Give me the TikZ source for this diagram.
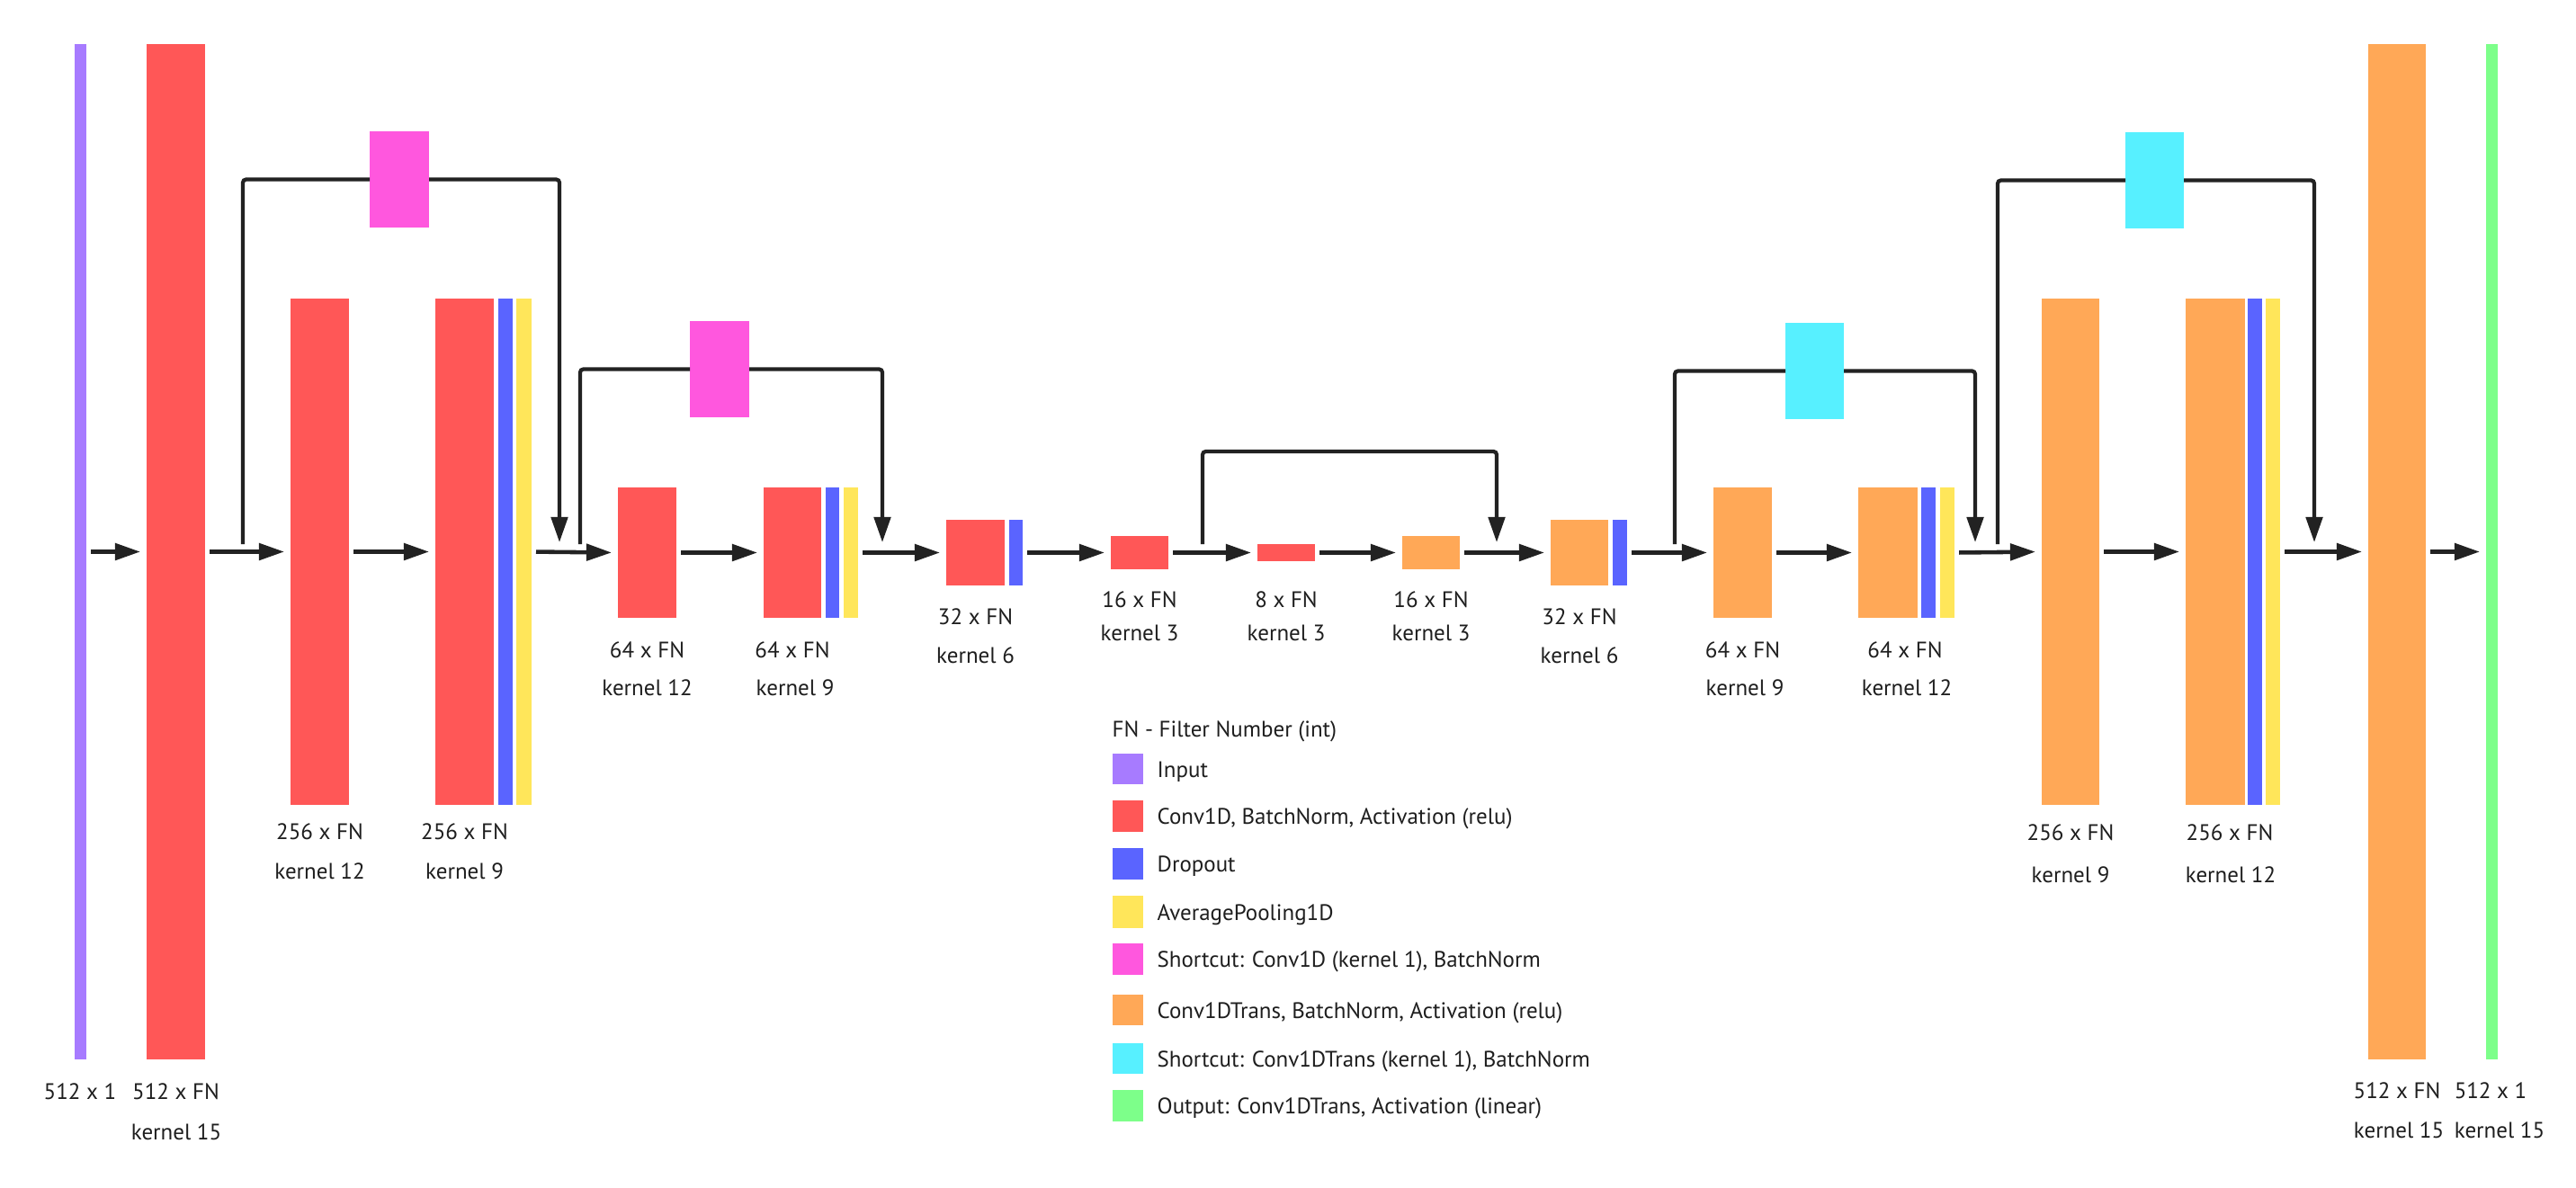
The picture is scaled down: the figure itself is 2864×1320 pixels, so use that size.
\documentclass[tikz,border=0pt]{standalone}
\usepackage{fontspec}
\setmainfont{PT Sans}
\usetikzlibrary{arrows.meta,calc}
\definecolor{cin}{HTML}{A77BFF}
\definecolor{cconv}{HTML}{FF5757}
\definecolor{cdrop}{HTML}{5A64FF}
\definecolor{cpool}{HTML}{FFE65A}
\definecolor{cshort}{HTML}{FF57DE}
\definecolor{ctrans}{HTML}{FFA857}
\definecolor{cshortt}{HTML}{57F0FF}
\definecolor{cout}{HTML}{7DFF8A}
\definecolor{cline}{HTML}{222222}
\definecolor{ctext}{HTML}{1E1E1E}
\newcommand\blk[6]{\node[blockbox,fill=#2,minimum width={(#4-#3)*0.1mm},minimum height={(#6-#5)*0.1mm}] (#1) at ({(#3+#4)/2},{(#5+#6)/2}) {};}
\newcommand\lbl[4]{\node[lbltext] (#1) at (#2,{#3+9}) {#4};}
\tikzset{
  blockbox/.style={rectangle,draw=none,inner sep=0pt,outer sep=0pt},
  lbltext/.style={anchor=base,inner sep=0pt,text=ctext,font=\fontsize{7.1pt}{9pt}\selectfont},
  legtext/.style={anchor=base west,inner sep=0pt,text=ctext,font=\fontsize{7.1pt}{9pt}\selectfont},
  flowarrow/.style={draw=cline,line width=1.3pt,-{Triangle[length=8pt,width=5.2pt]},shorten <=0.5mm,shorten >=0.7mm},
  skipline/.style={draw=cline,line width=1.2pt,rounded corners=1pt},
  skiparrow/.style={skipline,-{Triangle[length=8pt,width=5.2pt]}},
}
\begin{document}
\begin{tikzpicture}[x=0.1mm,y=-0.1mm]
\fill[white] (0,0) rectangle (2864,1320);
\useasboundingbox (0,0) rectangle (2864,1320);
% encoder
\blk{in1}{cin}{83}{96}{49}{1178}
\blk{e1}{cconv}{163}{228}{49}{1178}
\blk{e2}{cconv}{323}{388}{332}{895}
\blk{e3}{cconv}{484}{549}{332}{895}
\blk{e3d}{cdrop}{554}{570}{332}{895}
\blk{e3p}{cpool}{574}{591}{332}{895}
\blk{e4}{cconv}{687}{752}{542}{687}
\blk{e5}{cconv}{849}{913}{542}{687}
\blk{e5d}{cdrop}{918}{933}{542}{687}
\blk{e5p}{cpool}{938}{954}{542}{687}
\blk{e6}{cconv}{1052}{1117}{578}{651}
\blk{e6d}{cdrop}{1122}{1137}{578}{651}
\blk{e7}{cconv}{1235}{1299}{596}{633}
\blk{e8}{cconv}{1398}{1462}{605}{624}
% decoder
\blk{d1}{ctrans}{1559}{1623}{596}{633}
\blk{d2}{ctrans}{1724}{1788}{578}{651}
\blk{d2d}{cdrop}{1793}{1809}{578}{651}
\blk{d3}{ctrans}{1905}{1970}{542}{687}
\blk{d4}{ctrans}{2066}{2132}{542}{687}
\blk{d4d}{cdrop}{2136}{2152}{542}{687}
\blk{d4p}{cpool}{2157}{2173}{542}{687}
\blk{d5}{ctrans}{2270}{2334}{332}{895}
\blk{d6}{ctrans}{2430}{2496}{332}{895}
\blk{d6d}{cdrop}{2499}{2515}{332}{895}
\blk{d6p}{cpool}{2519}{2535}{332}{895}
\blk{d7}{ctrans}{2633}{2697}{49}{1178}
\blk{out}{cout}{2764}{2777}{49}{1178}
% shortcut boxes
\blk{sc1}{cshort}{411}{477}{146}{253}
\blk{sc2}{cshort}{767}{833}{357}{464}
\blk{sc4}{cshortt}{1985}{2050}{359}{466}
\blk{sc5}{cshortt}{2363}{2428}{147}{254}
% main flow
\draw[flowarrow] (in1.east) -- (e1.west);
\draw[flowarrow] (e1.east) -- (e2.west);
\draw[flowarrow] (e2.east) -- (e3.west);
\draw[flowarrow] (e3p.east) -- (e4.west);
\draw[flowarrow] (e4.east) -- (e5.west);
\draw[flowarrow] (e5p.east) -- (e6.west);
\draw[flowarrow] (e6d.east) -- (e7.west);
\draw[flowarrow] (e7.east) -- (e8.west);
\draw[flowarrow] (e8.east) -- (d1.west);
\draw[flowarrow] (d1.east) -- (d2.west);
\draw[flowarrow] (d2d.east) -- (d3.west);
\draw[flowarrow] (d3.east) -- (d4.west);
\draw[flowarrow] (d4p.east) -- (d5.west);
\draw[flowarrow] (d5.east) -- (d6.west);
\draw[flowarrow] (d6p.east) -- (d7.west);
\draw[flowarrow] (d7.east) -- (out.west);
% shortcut connectors
\coordinate (s1a) at (270,605); \coordinate (s1b) at (622,603);
\coordinate (s2a) at (645,605); \coordinate (s2b) at (981,603);
\coordinate (s3a) at (1337,605); \coordinate (s3b) at (1664,603);
\coordinate (s4a) at (1862,605); \coordinate (s4b) at (2196,603);
\coordinate (s5a) at (2221,605); \coordinate (s5b) at (2573,603);
\draw[skipline] (s1a) |- (sc1.west);
\draw[skiparrow] (sc1.east) -| (s1b);
\draw[skipline] (s2a) |- (sc2.west);
\draw[skiparrow] (sc2.east) -| (s2b);
\draw[skiparrow] (s3a) -- ++(0,-103) -| (s3b);
\draw[skipline] (s4a) |- (sc4.west);
\draw[skiparrow] (sc4.east) -| (s4b);
\draw[skipline] (s5a) |- (sc5.west);
\draw[skiparrow] (sc5.east) -| (s5b);
% labels
\lbl{l1}{89}{1213}{512 x 1}
\lbl{l2}{195.5}{1213}{512 x FN}
\lbl{l2k}{196}{1258}{kernel 15}
\lbl{l3}{355.5}{924}{256 x FN}
\lbl{l3k}{355.5}{968}{kernel 12}
\lbl{l4}{516.5}{924}{256 x FN}
\lbl{l4k}{516.5}{968}{kernel 9}
\lbl{l5}{719.5}{722}{64 x FN}
\lbl{l5k}{719.5}{764}{kernel 12}
\lbl{l6}{881}{722}{64 x FN}
\lbl{l6k}{884}{764}{kernel 9}
\lbl{l7}{1084.5}{685}{32 x FN}
\lbl{l7k}{1084.5}{728}{kernel 6}
\lbl{l8}{1267}{666}{16 x FN}
\lbl{l8k}{1267}{703}{kernel 3}
\lbl{l9}{1430}{666}{8 x FN}
\lbl{l9k}{1430}{703}{kernel 3}
\lbl{l10}{1591}{666}{16 x FN}
\lbl{l10k}{1591}{703}{kernel 3}
\lbl{l11}{1756}{685}{32 x FN}
\lbl{l11k}{1756}{728}{kernel 6}
\lbl{l12}{1937.5}{722}{64 x FN}
\lbl{l12k}{1940}{764}{kernel 9}
\lbl{l13}{2118}{722}{64 x FN}
\lbl{l13k}{2120}{764}{kernel 12}
\lbl{l14}{2302}{925}{256 x FN}
\lbl{l14k}{2302}{972}{kernel 9}
\lbl{l15}{2479}{925}{256 x FN}
\lbl{l15k}{2480}{972}{kernel 12}
\lbl{l16}{2665}{1212}{512 x FN}
\lbl{l16k}{2667}{1256}{kernel 15}
\lbl{l17}{2769}{1212}{512 x 1}
\lbl{l17k}{2779}{1256}{kernel 15}
% legend
\node[legtext] (legtitle) at (1236,819) {FN - Filter Number (int)};
\blk{k1}{cin}{1237}{1271}{838}{872}
\blk{k2}{cconv}{1237}{1271}{890}{925}
\blk{k3}{cdrop}{1237}{1271}{943}{978}
\blk{k4}{cpool}{1237}{1271}{996}{1032}
\blk{k5}{cshort}{1237}{1271}{1049}{1084}
\blk{k6}{ctrans}{1237}{1271}{1106}{1140}
\blk{k7}{cshortt}{1237}{1271}{1160}{1194}
\blk{k8}{cout}{1237}{1271}{1212}{1247}
\node[legtext] (t1) at (1286,864) {Input};
\node[legtext] (t2) at (1286,916.5) {Conv1D, BatchNorm, Activation (relu)};
\node[legtext] (t3) at (1286,969.5) {Dropout};
\node[legtext] (t4) at (1286,1023) {AveragePooling1D};
\node[legtext] (t5) at (1286,1075.5) {Shortcut: Conv1D (kernel 1), BatchNorm};
\node[legtext] (t6) at (1286,1132) {Conv1DTrans, BatchNorm, Activation (relu)};
\node[legtext] (t7) at (1286,1186) {Shortcut: Conv1DTrans (kernel 1), BatchNorm};
\node[legtext] (t8) at (1286,1238.5) {Output: Conv1DTrans, Activation (linear)};
\end{tikzpicture}
\end{document}
